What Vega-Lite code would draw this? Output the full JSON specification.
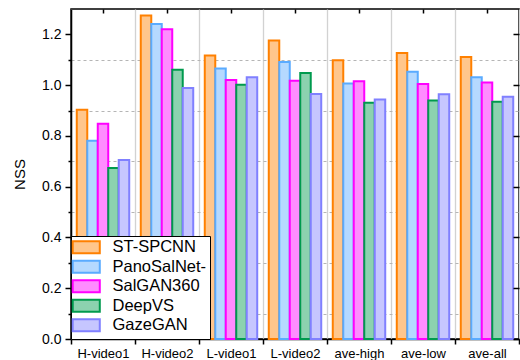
{
  "$schema": "https://vega.github.io/schema/vega-lite/v6.json",
  "width": 448,
  "height": 330,
  "autosize": {"type": "none"},
  "padding": {"left": 71, "top": 9, "right": 1, "bottom": 21},
  "config": {
    "font": "Liberation Sans",
    "view": {"stroke": "#000", "strokeWidth": 1.5},
    "axis": {"labelColor": "#000", "titleColor": "#000", "domainColor": "#000", "tickColor": "#000", "domainWidth": 1.5, "tickWidth": 1.5}
  },
  "data": {
    "values": [
      {"video": "H-video1", "model": "ST-SPCNN", "nss": 0.903},
      {"video": "H-video1", "model": "PanoSalNet-", "nss": 0.781},
      {"video": "H-video1", "model": "SalGAN360", "nss": 0.848},
      {"video": "H-video1", "model": "DeepVS", "nss": 0.674},
      {"video": "H-video1", "model": "GazeGAN", "nss": 0.705},
      {"video": "H-video2", "model": "ST-SPCNN", "nss": 1.274},
      {"video": "H-video2", "model": "PanoSalNet-", "nss": 1.241},
      {"video": "H-video2", "model": "SalGAN360", "nss": 1.220},
      {"video": "H-video2", "model": "DeepVS", "nss": 1.061},
      {"video": "H-video2", "model": "GazeGAN", "nss": 0.989},
      {"video": "L-video1", "model": "ST-SPCNN", "nss": 1.117},
      {"video": "L-video1", "model": "PanoSalNet-", "nss": 1.066},
      {"video": "L-video1", "model": "SalGAN360", "nss": 1.020},
      {"video": "L-video1", "model": "DeepVS", "nss": 1.002},
      {"video": "L-video1", "model": "GazeGAN", "nss": 1.031},
      {"video": "L-video2", "model": "ST-SPCNN", "nss": 1.176},
      {"video": "L-video2", "model": "PanoSalNet-", "nss": 1.091},
      {"video": "L-video2", "model": "SalGAN360", "nss": 1.017},
      {"video": "L-video2", "model": "DeepVS", "nss": 1.048},
      {"video": "L-video2", "model": "GazeGAN", "nss": 0.965},
      {"video": "ave-high", "model": "ST-SPCNN", "nss": 1.098},
      {"video": "ave-high", "model": "PanoSalNet-", "nss": 1.007},
      {"video": "ave-high", "model": "SalGAN360", "nss": 1.015},
      {"video": "ave-high", "model": "DeepVS", "nss": 0.931},
      {"video": "ave-high", "model": "GazeGAN", "nss": 0.943},
      {"video": "ave-low", "model": "ST-SPCNN", "nss": 1.127},
      {"video": "ave-low", "model": "PanoSalNet-", "nss": 1.053},
      {"video": "ave-low", "model": "SalGAN360", "nss": 1.005},
      {"video": "ave-low", "model": "DeepVS", "nss": 0.940},
      {"video": "ave-low", "model": "GazeGAN", "nss": 0.964},
      {"video": "ave-all", "model": "ST-SPCNN", "nss": 1.111},
      {"video": "ave-all", "model": "PanoSalNet-", "nss": 1.031},
      {"video": "ave-all", "model": "SalGAN360", "nss": 1.010},
      {"video": "ave-all", "model": "DeepVS", "nss": 0.935},
      {"video": "ave-all", "model": "GazeGAN", "nss": 0.954}
    ]
  },
  "layer": [
    {
      "mark": {"type": "bar", "strokeWidth": 2},
      "encoding": {
        "x": {
          "field": "video", "type": "nominal",
          "sort": ["H-video1", "H-video2", "L-video1", "L-video2", "ave-high", "ave-low", "ave-all"],
          "scale": {"paddingInner": 0, "paddingOuter": 0},
          "axis": {"orient": "bottom", "title": null, "labelAngle": 0, "labelFontSize": 13, "labelPadding": 3, "tickBand": "extent", "tickSize": 5, "grid": true, "gridColor": "#d2d2d2", "gridWidth": 1.3}
        },
        "xOffset": {
          "field": "model", "type": "nominal",
          "sort": ["ST-SPCNN", "PanoSalNet-", "SalGAN360", "DeepVS", "GazeGAN"],
          "scale": {"paddingInner": 0, "paddingOuter": 0.55}
        },
        "y": {
          "field": "nss", "type": "quantitative",
          "scale": {"domain": [0, 1.3], "nice": false},
          "axis": {
            "orient": "left", "title": "NSS", "titleFontSize": 15, "titleFontWeight": "normal", "titlePadding": 14,
            "values": [0, 0.1, 0.2, 0.3, 0.4, 0.5, 0.6, 0.7, 0.8, 0.9, 1.0, 1.1, 1.2],
            "labelExpr": "round(datum.value*10)%2==0 ? format(datum.value, '.1f') : ''",
            "labelFontSize": 14, "labelPadding": 4,
            "tickSize": {"condition": {"test": "round(datum.value*10)%2==1", "value": 3}, "value": 6},
            "grid": true, "gridDash": [3, 3], "gridColor": "#b5b5b5", "gridWidth": 1,
            "gridOpacity": {"condition": {"test": "round(datum.value*10)%2==1", "value": 1}, "value": 0}
          }
        },
        "fill": {
          "field": "model", "type": "nominal",
          "scale": {"domain": ["ST-SPCNN", "PanoSalNet-", "SalGAN360", "DeepVS", "GazeGAN"], "range": ["#ffc68c", "#b5d9ff", "#ff8cff", "#8cd2af", "#c6c6ff"]},
          "legend": {
            "orient": "bottom-left", "offset": 0, "title": null, "padding": 3,
            "strokeColor": "#000", "fillColor": "#fff",
            "symbolType": "M-2.21,-1H2.21V1H-2.21Z", "symbolSize": 150, "symbolStrokeWidth": 2, "symbolOffset": 4,
            "labelFontSize": 16.5, "labelColor": "#000", "labelOffset": 18, "rowPadding": -1.5
          }
        },
        "stroke": {
          "field": "model", "type": "nominal",
          "scale": {"domain": ["ST-SPCNN", "PanoSalNet-", "SalGAN360", "DeepVS", "GazeGAN"], "range": ["#ff8000", "#5aabff", "#ff00ff", "#009a4e", "#8080ff"]},
          "legend": {
            "orient": "bottom-left", "offset": 0, "title": null, "padding": 3,
            "strokeColor": "#000", "fillColor": "#fff",
            "symbolType": "M-2.21,-1H2.21V1H-2.21Z", "symbolSize": 150, "symbolStrokeWidth": 2, "symbolOffset": 4,
            "labelFontSize": 16.5, "labelColor": "#000", "labelOffset": 18, "rowPadding": -1.5
          }
        }
      }
    },
    {
      "mark": {"type": "bar", "opacity": 0},
      "encoding": {
        "x": {
          "field": "video", "type": "nominal",
          "sort": ["H-video1", "H-video2", "L-video1", "L-video2", "ave-high", "ave-low", "ave-all"],
          "axis": {"orient": "bottom", "offset": -330, "title": null, "labels": false, "domain": false, "grid": false, "tickSize": 4, "zindex": 1}
        },
        "y": {
          "field": "nss", "type": "quantitative",
          "axis": {"orient": "left", "offset": -448, "title": null, "labels": false, "domain": false, "grid": false, "tickSize": 6, "zindex": 1, "values": [0, 0.2, 0.4, 0.6, 0.8, 1.0, 1.2]}
        }
      }
    }
  ],
  "resolve": {"axis": {"x": "independent", "y": "independent"}}
}
